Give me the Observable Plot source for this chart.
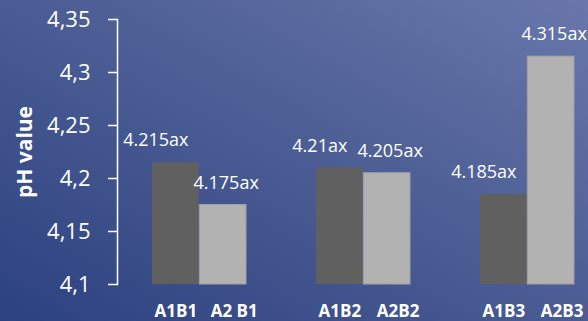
<!DOCTYPE html>
<html>
<head>
<meta charset="utf-8">
<script src="https://cdn.jsdelivr.net/npm/d3@7"></script>
<script src="https://cdn.jsdelivr.net/npm/@observablehq/plot@0.6"></script>
<style>
  html, body { margin: 0; padding: 0; background: #46588f; }
  svg { display: block; overflow: visible; }
</style>
</head>
<body>
<div id="chart"></div>
<script>
// Data
const groups = ["B1", "B2", "B3"];
const a1Labels = ["A1B1", "A1B2", "A1B3"];
const a2Labels = ["A2 B1", "A2B2", "A2B3"];
const a1Values = [4.215, 4.21, 4.185];
const a2Values = [4.175, 4.205, 4.315];
const a1Text = ["4.215ax", "4.21ax", "4.185ax"];
const a2Text = ["4.175ax", "4.205ax", "4.315ax"];
const yTicks = [4.1, 4.15, 4.2, 4.25, 4.3, 4.35];

const yMin = yTicks[0], yMax = yTicks[yTicks.length - 1];
const a1 = groups.map((g, i) => ({group: g, value: a1Values[i], text: a1Text[i], label: a1Labels[i]}));
const a2 = groups.map((g, i) => ({group: g, value: a2Values[i], text: a2Text[i], label: a2Labels[i]}));

// layout
const W = 588, H = 321;
const xRange = [151, 575];
const padInner = 0.4255;
const step = (xRange[1] - xRange[0]) / (groups.length - padInner);
const bw = step * (1 - padInner);
const half = bw / 2;

const font = "'Open Sans', sans-serif";

const chart = Plot.plot({
  width: W,
  height: H,
  marginLeft: 117,
  marginRight: 0,
  marginTop: 19,
  marginBottom: 37,
  style: {
    background: "linear-gradient(to top right, #2c4180 0%, #4a5c93 50%, #6977ab 100%)",
    fontFamily: font,
    color: "white"
  },
  x: {domain: groups, range: xRange, paddingInner: padInner, paddingOuter: 0, axis: null},
  y: {domain: [yMin, yMax], axis: null},
  marks: [
    Plot.barY(a1, {x: "group", y1: () => yMin, y2: "value", insetRight: half, fill: "#606060"}),
    Plot.barY(a2, {x: "group", y1: () => yMin, y2: "value", insetLeft: half, fill: "#b2b2b2", stroke: "#a0a0a0", strokeWidth: 1}),
    Plot.axisY({
      ticks: yTicks,
      tickFormat: d => String(d).replace(".", ","),
      tickSize: 9,
      tickPadding: 18,
      fontSize: 22,
      stroke: "white",
      strokeWidth: 1.5,
      fill: "white",
      label: null
    }),
    Plot.frame({anchor: "left", stroke: "white", strokeWidth: 1.5}),
    Plot.text(a1, {x: "group", y: "value", text: "text", dx: -bw / 4 - 20, dy: -22, fill: "white", fontSize: 18, lineAnchor: "middle"}),
    Plot.text(a2, {x: "group", y: "value", text: "text", dx: bw / 4 + 3, dy: -22, fill: "white", fontSize: 18, lineAnchor: "middle"}),
    Plot.text(a1, {x: "group", y: () => yMin, text: "label", dx: -bw / 4, dy: 27, fill: "white", fontSize: 17, fontWeight: "bold", lineAnchor: "middle"}),
    Plot.text(a2, {x: "group", y: () => yMin, text: "label", dx: bw / 4 + 11, dy: 27, fill: "white", fontSize: 17, fontWeight: "bold", lineAnchor: "middle"}),
    Plot.text(["pH value"], {frameAnchor: "left", rotate: -90, dx: -92, textAnchor: "middle", lineAnchor: "middle", fill: "white", fontSize: 21, fontWeight: "bold"})
  ]
});
document.getElementById("chart").appendChild(chart);
</script>
</body>
</html>
